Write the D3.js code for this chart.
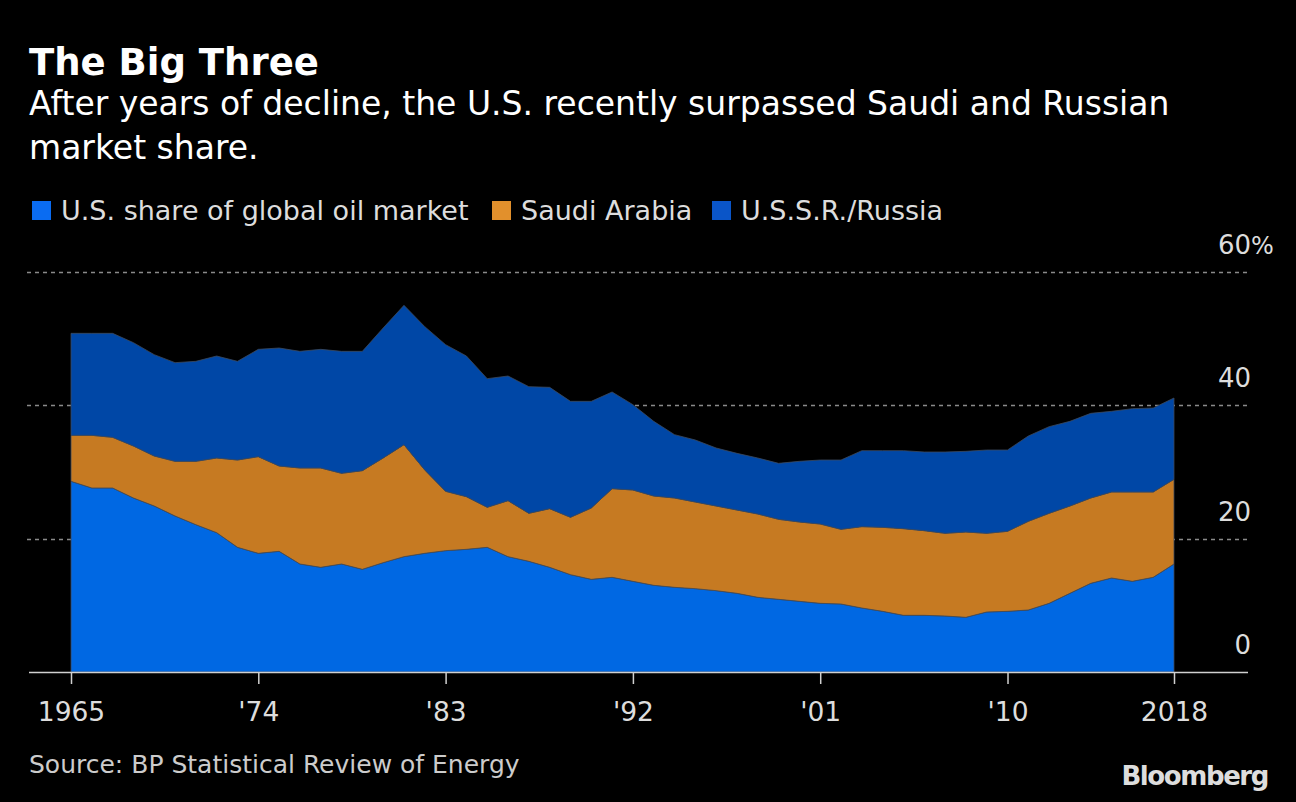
<!DOCTYPE html>
<html>
<head>
<meta charset="utf-8">
<script src="https://cdn.jsdelivr.net/npm/d3@7"></script>
<style>
  html, body { margin: 0; padding: 0; background: #000; }
  svg { display: block; }
  text { font-family: "DejaVu Sans", sans-serif; }
</style>
</head>
<body>
<svg id="chart" width="1296" height="802"></svg>
<script>
// ---- Data (percent share of global oil market) ----
const years = [1965,1966,1967,1968,1969,1970,1971,1972,1973,1974,1975,1976,1977,1978,1979,1980,1981,1982,1983,1984,1985,1986,1987,1988,1989,1990,1991,1992,1993,1994,1995,1996,1997,1998,1999,2000,2001,2002,2003,2004,2005,2006,2007,2008,2009,2010,2011,2012,2013,2014,2015,2016,2017,2018];
const usShare = [28.6,27.6,27.6,26.1,24.9,23.4,22.1,20.9,18.7,17.8,18.1,16.2,15.7,16.2,15.4,16.4,17.3,17.8,18.2,18.4,18.7,17.3,16.6,15.7,14.6,13.9,14.2,13.6,13.0,12.7,12.5,12.2,11.8,11.2,10.9,10.6,10.3,10.2,9.6,9.1,8.5,8.5,8.4,8.2,9.0,9.1,9.3,10.3,11.8,13.3,14.1,13.6,14.2,16.2];
const saudiShare = [6.9,7.9,7.6,7.8,7.5,8.2,9.5,11.2,13.1,14.5,12.8,14.4,14.9,13.6,14.8,15.7,16.8,12.5,8.9,7.9,6.0,8.4,7.2,8.8,8.6,10.7,13.3,13.7,13.4,13.4,13.0,12.7,12.5,12.5,12.0,11.9,11.9,11.2,12.2,12.6,13.0,12.7,12.4,12.8,11.8,12.0,13.3,13.5,13.1,12.8,12.9,13.4,12.8,12.7];
const russiaShare = [15.3,15.3,15.6,15.5,15.2,14.8,15.0,15.3,14.8,16.1,17.7,17.5,17.8,18.3,17.9,19.5,20.9,21.5,22.0,21.1,19.3,18.7,19.0,18.2,17.4,16.0,14.5,12.8,11.2,9.5,9.3,8.7,8.5,8.4,8.4,9.1,9.6,10.4,11.4,11.5,11.7,11.8,12.2,12.1,12.5,12.2,12.8,13.0,12.7,12.7,12.1,12.5,12.6,12.2];

const seriesKeys = ["us", "saudi", "russia"];
const seriesNames = ["U.S. share of global oil market", "Saudi Arabia", "U.S.S.R./Russia"];
const areaColors = ["#0068e3", "#c67a22", "#0047a6"];
const legendColors = ["#0a6cf2", "#e2902c", "#0a55c8"];

const xTickValues = [1965, 1974, 1983, 1992, 2001, 2010, 2018];
const xTickLabels = ["1965", "'74", "'83", "'92", "'01", "'10", "2018"];
const yTickValues = [0, 20, 40, 60];

// ---- Build table ----
const table = years.map((yr, i) => ({ year: yr, us: usShare[i], saudi: saudiShare[i], russia: russiaShare[i] }));

const svg = d3.select("#chart");

// ---- Scales ----
const x = d3.scaleLinear().domain([1965, 2018]).range([71, 1174]);
const y = d3.scaleLinear().domain([0, 60]).range([672, 272]);

// ---- Titles ----
svg.append("text").attr("x", 29).attr("y", 75)
  .attr("fill", "#fff").attr("font-weight", "bold").attr("font-size", 37)
  .text("The Big Three");
svg.append("text").attr("x", 29).attr("y", 115)
  .attr("fill", "#fff").attr("font-size", 33)
  .text("After years of decline, the U.S. recently surpassed Saudi and Russian");
svg.append("text").attr("x", 29).attr("y", 159)
  .attr("fill", "#fff").attr("font-size", 33)
  .text("market share.");

// ---- Legend ----
const legendX = [32, 492, 712];
const legend = svg.append("g");
seriesNames.forEach((name, i) => {
  legend.append("rect").attr("x", legendX[i]).attr("y", 201).attr("width", 19).attr("height", 19)
    .attr("fill", legendColors[i]);
  legend.append("text").attr("x", legendX[i] + 29).attr("y", 220)
    .attr("fill", "#ddd").attr("font-size", 27).text(name);
});

// ---- Gridlines ----
const grid = svg.append("g");
grid.selectAll("line").data(yTickValues.filter(v => v > 0)).join("line")
  .attr("x1", 27).attr("x2", 1250)
  .attr("y1", d => Math.round(y(d)) + 0.5).attr("y2", d => Math.round(y(d)) + 0.5)
  .attr("stroke", "#8a8a8a").attr("stroke-width", 1.6).attr("stroke-dasharray", "4,4");

// ---- Stacked areas ----
const stack = d3.stack().keys(seriesKeys);
const stacked = stack(table);
const area = d3.area()
  .x(d => x(d.data.year))
  .y0(d => y(d[0]))
  .y1(d => y(d[1]));

svg.append("g").selectAll("path").data(stacked).join("path")
  .attr("d", area)
  .attr("fill", (d, i) => areaColors[i])
  .attr("stroke", "#3c4a5e").attr("stroke-width", 0.8);

// ---- Y labels ----
const yLabels = svg.append("g");
yLabels.selectAll("text").data(yTickValues).join("text")
  .attr("x", 1251).attr("y", d => y(d) - 18)
  .attr("text-anchor", "end")
  .attr("fill", "#ddd").attr("font-size", 26)
  .text(d => d);
yLabels.append("text").attr("x", 1251).attr("y", y(60) - 18)
  .attr("fill", "#ddd").attr("font-size", 24).attr("letter-spacing", -1).text("%");

// ---- X axis ----
const xAxis = d3.axisBottom(x)
  .tickValues(xTickValues)
  .tickFormat((d, i) => xTickLabels[i])
  .tickSize(12).tickPadding(18).tickSizeOuter(0);

const gx = svg.append("g").attr("transform", "translate(0,672)").call(xAxis);
gx.select(".domain").remove();
gx.insert("line", ":first-child").attr("x1", 29).attr("x2", 1248).attr("y1", 0.5).attr("y2", 0.5)
  .attr("stroke", "#d0d0d0").attr("stroke-width", 1.5);
gx.selectAll(".tick line").attr("stroke", "#d0d0d0").attr("stroke-width", 1.5);
gx.selectAll(".tick text").attr("fill", "#ddd").attr("font-size", 26.5)
  .attr("font-family", "'DejaVu Sans', sans-serif");

// ---- Footer ----
svg.append("text").attr("x", 29).attr("y", 773)
  .attr("fill", "#ccc").attr("font-size", 25)
  .text("Source: BP Statistical Review of Energy");
svg.append("text").attr("x", 1268).attr("y", 785)
  .attr("text-anchor", "end").attr("fill", "#ddd").attr("font-weight", "bold")
  .attr("font-size", 26).attr("letter-spacing", -1.4)
  .text("Bloomberg");
</script>
</body>
</html>
